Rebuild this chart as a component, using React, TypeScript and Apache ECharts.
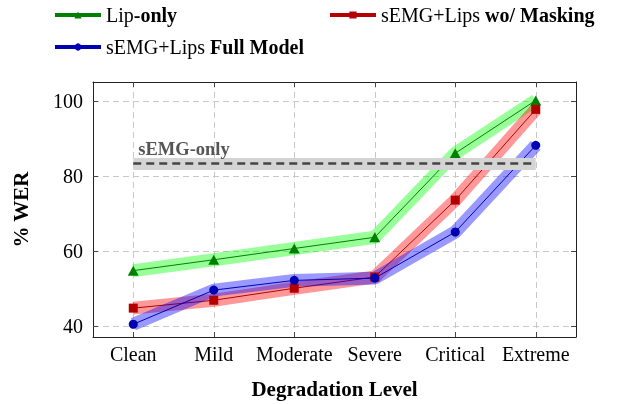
import React, { useEffect, useRef } from "react";
import * as echarts from "echarts";

const categories = ["Clean", "Mild", "Moderate", "Severe", "Critical", "Extreme"];
const lipOnly = [54.7, 57.6, 60.6, 63.6, 86.0, 100.1];
const woMasking = [44.7, 46.8, 50.0, 53.0, 73.5, 97.7];
const fullModel = [40.4, 49.5, 52.1, 52.7, 65.0, 88.1];
const semgOnly = 83.3;
const yTicks = [40, 60, 80, 100];

const FONT = "Liberation Serif";

const NAMES = {
  lip: "Lip-only",
  wo: "sEMG+Lips wo/ Masking",
  full: "sEMG+Lips Full Model",
};

const legendRich = {
  n: { fontFamily: FONT, fontSize: 20, color: "#000" },
  b: { fontFamily: FONT, fontSize: 20, color: "#000", fontWeight: "bold" },
};

function legendFormatter(name: string) {
  if (name === NAMES.lip) return "{n|Lip}{b|-only}";
  if (name === NAMES.wo) return "{n|sEMG+Lips }{b|wo/ Masking}";
  return "{n|sEMG+Lips }{b|Full Model}";
}

function makeLegend(name: string, left: number, top: number) {
  return {
    data: [name],
    left,
    top,
    itemWidth: 46,
    itemHeight: 9,
    lineStyle: { width: 4 },
    formatter: legendFormatter,
    textStyle: { fontFamily: FONT, fontSize: 20, rich: legendRich },
  };
}

function band(name: string, data: number[], color: string) {
  return {
    type: "line",
    name,
    data,
    symbol: "none",
    silent: true,
    lineStyle: { width: 13, color, opacity: 0.4 },
  };
}

function mainLine(name: string, data: number[], color: string, symbol: string, size: any) {
  return {
    type: "line",
    name,
    data,
    symbol,
    symbolSize: size,
    silent: true,
    lineStyle: { width: 1, color },
    itemStyle: { color },
  };
}

export default function App() {
  const ref = useRef<HTMLDivElement>(null);
  useEffect(() => {
    if (!ref.current) return;
    const chart = echarts.init(ref.current, undefined, { renderer: "svg" });
    const greenBand: any = band("lipBand", lipOnly, "#00ff00");
    greenBand.markLine = {
      silent: true,
      symbol: ["none", "none"],
      data: [
        [
          {
            coord: [categories[0], semgOnly],
            lineStyle: { type: "solid", color: "#d4d4d4", width: 12 },
            label: { show: false },
          },
          { coord: [categories[5], semgOnly] },
        ],
        [
          {
            coord: [categories[0], semgOnly],
            lineStyle: { type: [8, 5], color: "#444", width: 2.5 },
            label: {
              show: true,
              position: "insideStartTop",
              formatter: "sEMG-only",
              fontFamily: FONT,
              fontWeight: "bold",
              fontSize: 18.5,
              color: "#555",
            },
          },
          { coord: [categories[5], semgOnly] },
        ],
      ],
    };
    const option: any = {
      animation: false,
      legend: [
        makeLegend(NAMES.lip, 48, 0),
        makeLegend(NAMES.wo, 323, 0),
        makeLegend(NAMES.full, 48, 32),
      ],
      grid: { left: 93, top: 82, right: 47, bottom: 64 },
      xAxis: [
        {
          type: "category",
          data: categories,
          position: "bottom",
          name: "Degradation Level",
          nameLocation: "middle",
          nameGap: 41,
          nameTextStyle: { fontFamily: FONT, fontSize: 21, fontWeight: "bold", color: "#000" },
          axisLine: { show: true, lineStyle: { color: "#222", width: 1 } },
          axisTick: { show: true, inside: true, length: 5, alignWithLabel: true, lineStyle: { color: "#444" } },
          axisLabel: { interval: 0, margin: 7, fontFamily: FONT, fontSize: 20, color: "#000" },
          splitLine: { show: true, alignWithLabel: true, lineStyle: { color: "#c8c8c8", type: [6, 4], width: 1 } },
        },
        {
          type: "category",
          data: categories,
          position: "top",
          axisLine: { show: true, lineStyle: { color: "#222", width: 1 } },
          axisTick: { show: true, inside: true, length: 5, alignWithLabel: true, lineStyle: { color: "#444" } },
          axisLabel: { show: false },
          splitLine: { show: false },
        },
      ],
      yAxis: [
        {
          type: "value",
          min: 37,
          max: 105,
          position: "left",
          name: "% WER",
          nameLocation: "middle",
          nameGap: 62,
          nameTextStyle: { fontFamily: FONT, fontSize: 21, fontWeight: "bold", color: "#000" },
          axisLine: { show: true, lineStyle: { color: "#222", width: 1 } },
          axisTick: { show: true, inside: true, length: 5, customValues: yTicks, lineStyle: { color: "#444" } },
          axisLabel: { customValues: yTicks, margin: 10, fontFamily: FONT, fontSize: 20, color: "#000" },
          splitLine: { show: true, lineStyle: { color: "#c8c8c8", type: [6, 4], width: 1 } },
        },
        {
          type: "value",
          min: 37,
          max: 105,
          position: "right",
          axisLine: { show: true, lineStyle: { color: "#222", width: 1 } },
          axisTick: { show: true, inside: true, length: 5, customValues: yTicks, lineStyle: { color: "#444" } },
          axisLabel: { show: false },
          splitLine: { show: false },
        },
      ],
      series: [
        greenBand,
        mainLine(NAMES.lip, lipOnly, "#008000", "triangle", [11, 10]),
        band("woBand", woMasking, "#ff0000"),
        mainLine(NAMES.wo, woMasking, "#b30000", "rect", 9),
        band("fullBand", fullModel, "#0000ff"),
        mainLine(NAMES.full, fullModel, "#0000b3", "circle", 9),
      ],
    };
    chart.setOption(option);
    return () => chart.dispose();
  }, []);
  return <div ref={ref} style={{ position: "fixed", left: 0, top: 0, width: 623, height: 404 }} />;
}
